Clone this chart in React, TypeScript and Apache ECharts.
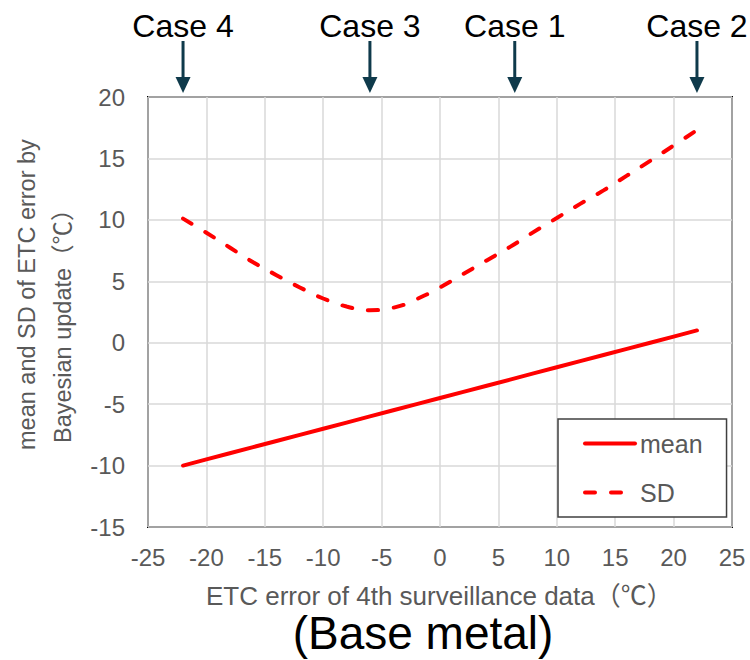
import React, { useEffect, useRef } from "react";
import * as echarts from "echarts";

const xValues = [-22, -20, -18, -16, -14, -12, -10, -8, -6, -4, -2, 0, 2, 4, 6, 8, 10, 12, 14, 16, 18, 20, 22];
const meanValues = [-10, -9.5, -9, -8.5, -8, -7.5, -7, -6.5, -6, -5.5, -5, -4.5, -4, -3.5, -3, -2.5, -2, -1.5, -1, -0.5, 0, 0.5, 1];
const sdValues = [10.1, 8.95, 7.75, 6.55, 5.5, 4.5, 3.6, 2.95, 2.65, 2.85, 3.55, 4.5, 5.6, 6.7, 7.8, 9.0, 10.15, 11.3, 12.4, 13.6, 14.8, 16.05, 17.3];
const caseLabels = ["Case 4", "Case 3", "Case 1", "Case 2"];
const caseX = [-22, -6, 6.4, 22];
const seriesNames = ["mean", "SD"];
const xTitle = "ETC error of 4th surveillance data（℃）";
const yTitleLines = ["mean and SD of ETC error by", "Bayesian update（℃）"];
const subTitle = "(Base metal)";

const FONT = "'Liberation Sans', Arial, 'Noto Sans CJK JP', sans-serif";
const GRAY = "#595959";
const ARROW = "#0f3a4b";

export default function App() {
  const ref = useRef<HTMLDivElement>(null);
  useEffect(() => {
    document.body.style.margin = "0";
    if (!ref.current) return;
    const chart = echarts.init(ref.current, undefined, { renderer: "svg" });
    const option: any = {
      animation: false,
      textStyle: { fontFamily: FONT },
      grid: {
        left: 148,
        right: 18,
        top: 97,
        bottom: 133,
        show: true,
        borderColor: "#000",
        borderWidth: 2,
        backgroundColor: "transparent",
      },
      xAxis: {
        type: "value",
        min: -25,
        max: 25,
        interval: 5,
        axisLine: { show: false },
        axisTick: { show: false },
        axisLabel: { fontSize: 24, color: GRAY, margin: 18, fontFamily: FONT },
        splitLine: { show: true, lineStyle: { color: "#d9d9d9", width: 1.5 } },
      },
      yAxis: {
        type: "value",
        min: -15,
        max: 20,
        interval: 5,
        axisLine: { show: false },
        axisTick: { show: false },
        axisLabel: { fontSize: 24, color: GRAY, margin: 23, fontFamily: FONT },
        splitLine: { show: true, lineStyle: { color: "#d9d9d9", width: 1.5 } },
      },
      legend: {
        orient: "vertical",
        left: 558,
        top: 419,
        padding: [12, 24, 12, 25],
        itemWidth: 50,
        itemHeight: 25,
        itemGap: 24,
        selectedMode: false,
        backgroundColor: "#fff",
        borderColor: "#404040",
        borderWidth: 1.5,
        borderRadius: 0,
        itemStyle: { opacity: 0 },
        lineStyle: { width: 4 },
        textStyle: { fontSize: 25, color: GRAY, fontFamily: FONT },
        data: seriesNames,
      },
      series: [
        {
          name: seriesNames[0],
          type: "line",
          data: xValues.map((x, i) => [x, meanValues[i]]),
          symbol: "none",
          lineStyle: { color: "#ff0000", width: 4, cap: "round" },
          itemStyle: { color: "#ff0000" },
          z: 3,
        },
        {
          name: seriesNames[1],
          type: "line",
          smooth: true,
          data: xValues.map((x, i) => [x, sdValues[i]]),
          symbol: "none",
          lineStyle: { color: "#ff0000", width: 4, type: [10, 16], cap: "round" },
          itemStyle: { color: "#ff0000" },
          z: 3,
        },
      ],
    };
    chart.setOption(option);

    const graphics: any[] = [];
    caseX.forEach((cx, i) => {
      const px = chart.convertToPixel({ xAxisIndex: 0 }, cx) as number;
      graphics.push({
        type: "text",
        x: px,
        y: 26,
        style: {
          text: caseLabels[i],
          font: `32px ${FONT}`,
          fill: "#000",
          align: "center",
          verticalAlign: "middle",
          textAlign: "center",
          textVerticalAlign: "middle",
        },
      });
      graphics.push({
        type: "line",
        shape: { x1: px, y1: 41, x2: px, y2: 79 },
        style: { stroke: ARROW, lineWidth: 3 },
      });
      graphics.push({
        type: "polygon",
        shape: { points: [[px - 7.5, 77], [px + 7.5, 77], [px, 93]] },
        style: { fill: ARROW },
      });
    });
    graphics.push({
      type: "text",
      x: 206,
      y: 596,
      style: {
        text: xTitle,
        font: `26px ${FONT}`,
        lineHeight: 24,
        fill: GRAY,
        align: "left",
        verticalAlign: "middle",
        textAlign: "left",
        textVerticalAlign: "middle",
      },
    });
    graphics.push({
      type: "text",
      x: 423,
      y: 633,
      style: {
        text: subTitle,
        font: `46px ${FONT}`,
        lineHeight: 36,
        fill: "#000",
        align: "center",
        verticalAlign: "middle",
        textAlign: "center",
        textVerticalAlign: "middle",
      },
    });
    const yPos = [
      [27, 450],
      [63, 443],
    ];
    yTitleLines.forEach((t, i) => {
      graphics.push({
        type: "text",
        x: yPos[i][0],
        y: yPos[i][1],
        rotation: Math.PI / 2,
        style: {
          text: t,
          font: `23.5px ${FONT}`,
          fill: GRAY,
          align: "left",
          verticalAlign: "middle",
          textAlign: "left",
          textVerticalAlign: "middle",
        },
      });
    });
    chart.setOption({ graphic: graphics });

    return () => chart.dispose();
  }, []);
  return <div ref={ref} style={{ width: 750, height: 660 }} />;
}
